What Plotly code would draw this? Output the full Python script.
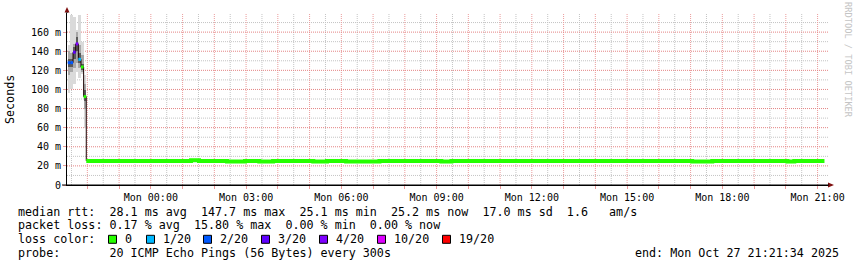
import plotly.graph_objects as go
import pandas as pd

# ---------------- data ----------------
range_start = "2025-10-26 21:21:34"
range_end = "2025-10-27 21:21:34"

# early, noisy part of the series (5 minute steps, value = interval start)
early_times = ["2025-10-26 21:23:00", "2025-10-26 21:28:00", "2025-10-26 21:33:00",
               "2025-10-26 21:38:00", "2025-10-26 21:43:00", "2025-10-26 21:48:00",
               "2025-10-26 21:53:00"]
early_median_ms = [128.0, 128.0, 139.0, 147.7, 131.5, 123.5, 92.5]
early_loss = [2, 2, 3, 4, 1, 0, 0]          # lost pings out of 20
smoke_outer_lo = [96, 100, 106, 118, 112, 116, 60]
smoke_outer_hi = [146, 178, 176, 162, 178, 150, 115]
smoke_mid_lo = [115, 118, 122, 128, 122, 118, 80]
smoke_mid_hi = [140, 138, 148, 160, 146, 136, 106]
smoke_in_lo = [124, 124, 132, 140, 128, 120, 88]
smoke_in_hi = [132, 132, 144, 155, 138, 127, 99]

# long flat part (step breakpoints and median rtt in ms, 0 loss)
flat_times = ["2025-10-26 21:58", "2025-10-27 01:16", "2025-10-27 01:31", "2025-10-27 02:24",
              "2025-10-27 02:58", "2025-10-27 03:25", "2025-10-27 03:51", "2025-10-27 05:07",
              "2025-10-27 05:33", "2025-10-27 06:09", "2025-10-27 07:12", "2025-10-27 09:09",
              "2025-10-27 09:28", "2025-10-27 17:03", "2025-10-27 17:41", "2025-10-27 20:03",
              "2025-10-27 20:16", "2025-10-27 21:13"]
flat_median_ms = [25.2, 25.8, 25.2, 24.6, 25.2, 24.6, 25.2, 24.6, 25.2, 24.6, 25.2,
                  24.6, 25.2, 24.6, 25.2, 24.6, 25.2, 25.2]

loss_levels = [0, 1, 2, 3, 4, 10, 19]
loss_labels = ["0", "1/20", "2/20", "3/20", "4/20", "10/20", "19/20"]
loss_colors = ["#26ff00", "#00b8ff", "#0059ff", "#5e00ff", "#7e00ff", "#dd00ff", "#ff0000"]

y_tick_values = [0, 0.02, 0.04, 0.06, 0.08, 0.10, 0.12, 0.14, 0.16]
y_tick_labels = ["0", "20 m", "40 m", "60 m", "80 m", "100 m", "120 m", "140 m", "160 m"]
y_minor_values = [0.01, 0.03, 0.05, 0.07, 0.09, 0.11, 0.13, 0.15, 0.17]

legend_median = "median rtt:  28.1 ms avg  147.7 ms max  25.1 ms min  25.2 ms now  17.0 ms sd  1.6   am/s"
legend_loss = "packet loss: 0.17 % avg  15.80 % max  0.00 % min  0.00 % now"
legend_probe = "probe:       20 ICMP Echo Pings (56 Bytes) every 300s"
legend_end = "end: Mon Oct 27 21:21:34 2025"

# ---------------- figure ----------------
W, H = 857, 267
L, R, T, B = 67, 829, 13, 185
MONO = "DejaVu Sans Mono"


def px(x):
    return (x - L) / (R - L)


def py(y):
    return (B - y) / (B - T)


step = pd.Timedelta(minutes=5)
et = pd.to_datetime(early_times)
centers = et + step / 2

fig = go.Figure()

# smoke
for lo, hi, col in [(smoke_outer_lo, smoke_outer_hi, "#dadada"),
                    (smoke_mid_lo, smoke_mid_hi, "#a8a8a8"),
                    (smoke_in_lo, smoke_in_hi, "#5a5a5a")]:
    fig.add_trace(go.Bar(
        x=centers, base=[v / 1000 for v in lo],
        y=[(h - l) / 1000 for l, h in zip(lo, hi)],
        width=step.total_seconds() * 1000, marker=dict(color=col, line=dict(width=0)),
        hoverinfo="skip"))

# thin dark connector of the median
conn_x = list(et) + [pd.Timestamp(flat_times[0])]
conn_y = [v / 1000 for v in early_median_ms] + [flat_median_ms[0] / 1000]
fig.add_trace(go.Scatter(x=conn_x, y=conn_y, mode="lines",
                         line=dict(color="#1a0000", width=1, shape="hv"), hoverinfo="skip"))

# loss-coloured median segments (early part)
for lvl, col in zip(loss_levels, loss_colors):
    xs, ys = [], []
    for t, v, ls in zip(et, early_median_ms, early_loss):
        if ls == lvl:
            xs += [t, t + step, None]
            ys += [v / 1000, v / 1000, None]
    if xs:
        fig.add_trace(go.Scatter(x=xs, y=ys, mode="lines",
                                 line=dict(color=col, width=3), hoverinfo="skip"))

# flat part (0 loss)
fig.add_trace(go.Scatter(x=pd.to_datetime(flat_times), y=[v / 1000 for v in flat_median_ms],
                         mode="lines", line=dict(color=loss_colors[0], width=4, shape="hv"),
                         hoverinfo="skip"))

# axes
hour_ticks = pd.date_range("2025-10-26 22:00", "2025-10-27 21:00", freq="h")
half_ticks = pd.date_range("2025-10-26 21:30", "2025-10-27 21:00", freq="h")
hour_text = [t.strftime("Mon %H:%M") if t.hour % 3 == 0 else "" for t in hour_ticks]

major_grid = "#eb9c9c"
major_grid_h = "#e48484"
minor_grid = "#c4c4c4"

fig.update_xaxes(
    type="date", range=[range_start, range_end],
    tickmode="array", tickvals=hour_ticks, ticktext=hour_text,
    showgrid=False,
    ticks="outside", ticklen=3, tickcolor=major_grid,
    tickfont=dict(family=MONO, size=10, color="#000"),
    showline=True, linecolor="#000", linewidth=1, zeroline=False,
)
fig.update_yaxes(
    range=[0, 0.18], tickmode="array", tickvals=y_tick_values, ticktext=y_tick_labels,
    showgrid=False,
    ticks="outside", ticklen=3, tickcolor=major_grid,
    tickfont=dict(family=MONO, size=10, color="#000"),
    showline=True, linecolor="#000", linewidth=1, zeroline=False,
)

shapes = []
# grid drawn as dotted lines below the traces: minor gray, major red
for t in half_ticks:
    shapes.append(dict(type="line", xref="x", yref="paper", x0=t, x1=t, y0=0, y1=1,
                       layer="below", line=dict(color=minor_grid, width=1, dash="1px,1px")))
for v in y_minor_values:
    shapes.append(dict(type="line", xref="paper", yref="y", x0=0, x1=1, y0=v, y1=v,
                       layer="below", line=dict(color=minor_grid, width=1, dash="1px,1px")))
for t in hour_ticks:
    shapes.append(dict(type="line", xref="x", yref="paper", x0=t, x1=t, y0=0, y1=1,
                       layer="below", line=dict(color=major_grid, width=1, dash="1px,1px")))
for v in y_tick_values[1:]:
    shapes.append(dict(type="line", xref="paper", yref="y", x0=0, x1=1, y0=v, y1=v,
                       layer="below", line=dict(color=major_grid_h, width=1, dash="1px,1px")))

# axis arrows
arrow_col = "#7f1010"
shapes.append(dict(type="path", xref="paper", yref="paper",
                   path=f"M {px(64.5)} {py(12.5)} L {px(67)} {py(7)} L {px(69.5)} {py(12.5)} Z",
                   fillcolor=arrow_col, line=dict(width=0)))
shapes.append(dict(type="path", xref="paper", yref="paper",
                   path=f"M {px(828)} {py(182.5)} L {px(834)} {py(185)} L {px(828)} {py(187.5)} Z",
                   fillcolor=arrow_col, line=dict(width=0)))
shapes.append(dict(type="line", xref="paper", yref="paper", x0=px(67), x1=px(67),
                   y0=py(12), y1=py(13), line=dict(color="#000", width=1)))
shapes.append(dict(type="line", xref="paper", yref="paper", x0=px(62), x1=px(829),
                   y0=py(185), y1=py(185), line=dict(color="#000", width=1)))

annotations = []
LINE_Y = [211.7, 225.0, 239.3, 252.7]
FS = 11.7
for txt, yy in [(legend_median, LINE_Y[0]), (legend_loss, LINE_Y[1]),
                ("loss color:", LINE_Y[2]), (legend_probe, LINE_Y[3])]:
    annotations.append(dict(text=txt, x=px(16), y=py(yy), xref="paper", yref="paper",
                            xanchor="left", yanchor="middle", showarrow=False,
                            font=dict(family=MONO, size=FS, color="#000")))
annotations.append(dict(text=legend_end, x=px(841), y=py(LINE_Y[3]), xref="paper", yref="paper",
                        xanchor="right", yanchor="middle", showarrow=False,
                        font=dict(family=MONO, size=FS, color="#000")))

square_left = [108, 146, 203, 261, 319, 377, 442]
for sx, lab, col in zip(square_left, loss_labels, loss_colors):
    shapes.append(dict(type="rect", xref="paper", yref="paper",
                       x0=px(sx + 0.5), x1=px(sx + 8.5), y0=py(LINE_Y[2] + 4), y1=py(LINE_Y[2] - 4),
                       fillcolor=col, line=dict(color="#000", width=1)))
    annotations.append(dict(text=lab, x=px(sx + 15), y=py(LINE_Y[2]), xref="paper", yref="paper",
                            xanchor="left", yanchor="middle", showarrow=False,
                            font=dict(family=MONO, size=FS, color="#000")))

annotations.append(dict(text="Seconds", x=px(10), y=py(99), xref="paper", yref="paper",
                        xanchor="center", yanchor="middle", textangle=-90, showarrow=False,
                        font=dict(family=MONO, size=FS, color="#000")))
annotations.append(dict(text="RRDTOOL / TOBI OETIKER", x=px(848), y=py(60), xref="paper",
                        yref="paper", xanchor="center", yanchor="middle", textangle=90,
                        showarrow=False, font=dict(family=MONO, size=8.7, color="#c4c4c4")))

fig.update_layout(
    width=W, height=H, autosize=False,
    margin=dict(l=L, r=W - R, t=T, b=H - B, pad=0),
    paper_bgcolor="#ffffff", plot_bgcolor="#ffffff",
    barmode="overlay", bargap=0, showlegend=False,
    shapes=shapes, annotations=annotations,
)

fig.write_html("out.html")
